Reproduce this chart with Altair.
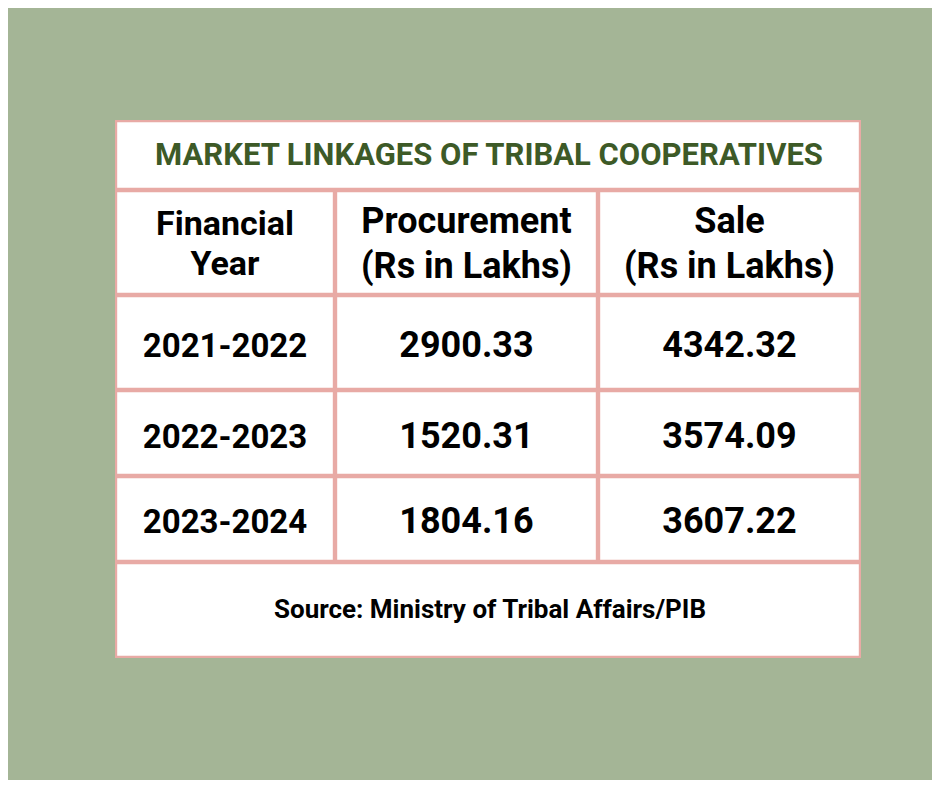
import altair as alt
import pandas as pd

# ---- table content ----
title = "MARKET LINKAGES OF TRIBAL COOPERATIVES"
header_lines = [["Financial", "Year"], ["Procurement", "(Rs in Lakhs)"], ["Sale", "(Rs in Lakhs)"]]
years = ["2021-2022", "2022-2023", "2023-2024"]
procurement = [2900.33, 1520.31, 1804.16]
sale = [4342.32, 3574.09, 3607.22]
source = "Source: Ministry of Tribal Affairs/PIB"

# ---- layout (page pixel positions) ----
col_edges = [115, 335, 598, 861]
row_edges = [120, 190, 295, 390, 476, 562, 658]
header_baselines = [[235, 275], [233, 278], [233, 278]]
header_sizes = [34, 36, 36]
data_baselines = [357, 448, 533]
title_baseline = 165
source_baseline = 618
inset = 2.2

BG = "#a4b596"
PINK = "#e8aaa5"
GREEN = "#3d5a27"
FONT = "Roboto"

# cells
cells = []
cells.append(dict(x=col_edges[0], x2=col_edges[-1], y=row_edges[0], y2=row_edges[-1], fill=PINK))
cells.append(dict(x=col_edges[0] + inset, x2=col_edges[-1] - inset,
                  y=row_edges[0] + inset, y2=row_edges[1] - inset, fill="white"))
for r in range(1, 5):
    for c in range(3):
        cells.append(dict(x=col_edges[c] + inset, x2=col_edges[c + 1] - inset,
                          y=row_edges[r] + inset, y2=row_edges[r + 1] - inset, fill="white"))
cells.append(dict(x=col_edges[0] + inset, x2=col_edges[-1] - inset,
                  y=row_edges[5] + inset, y2=row_edges[6] - inset, fill="white"))
cells_df = pd.DataFrame(cells)

def cx(c):
    return (col_edges[c] + col_edges[c + 1]) / 2

texts = []
texts.append(dict(text=title, x=(col_edges[0] + col_edges[-1]) / 2 + 1, y=title_baseline, size=31, color=GREEN))
for c in range(3):
    for line, b in zip(header_lines[c], header_baselines[c]):
        texts.append(dict(text=line, x=cx(c), y=b, size=header_sizes[c], color="black"))
for i in range(3):
    texts.append(dict(text=years[i], x=cx(0), y=data_baselines[i], size=33, color="black"))
    texts.append(dict(text=f"{procurement[i]:.2f}", x=cx(1), y=data_baselines[i], size=36, color="black"))
    texts.append(dict(text=f"{sale[i]:.2f}", x=cx(2), y=data_baselines[i], size=36, color="black"))
texts.append(dict(text=source, x=(col_edges[0] + col_edges[-1]) / 2 + 2, y=source_baseline, size=26, color="black"))
texts_df = pd.DataFrame(texts)

xs = alt.Scale(domain=[8, 932], zero=False, nice=False)
ys = alt.Scale(domain=[8, 780], zero=False, nice=False, reverse=True)

rects = alt.Chart(cells_df).mark_rect(strokeWidth=0).encode(
    x=alt.X("x:Q", scale=xs, axis=None),
    x2="x2:Q",
    y=alt.Y("y:Q", scale=ys, axis=None),
    y2="y2:Q",
    fill=alt.Fill("fill:N", scale=None),
)

labels = alt.Chart(texts_df).mark_text(
    font=FONT, fontWeight="bold", align="center", baseline="alphabetic"
).encode(
    x=alt.X("x:Q", scale=xs, axis=None),
    y=alt.Y("y:Q", scale=ys, axis=None),
    text="text:N",
    size=alt.Size("size:Q", scale=None),
    color=alt.Color("color:N", scale=None),
)

chart = alt.layer(rects, labels).properties(
    width=924, height=772, padding=0, background=BG
).configure_view(stroke=None)

chart.save("out.html", embed_options={"renderer": "svg", "actions": False})
